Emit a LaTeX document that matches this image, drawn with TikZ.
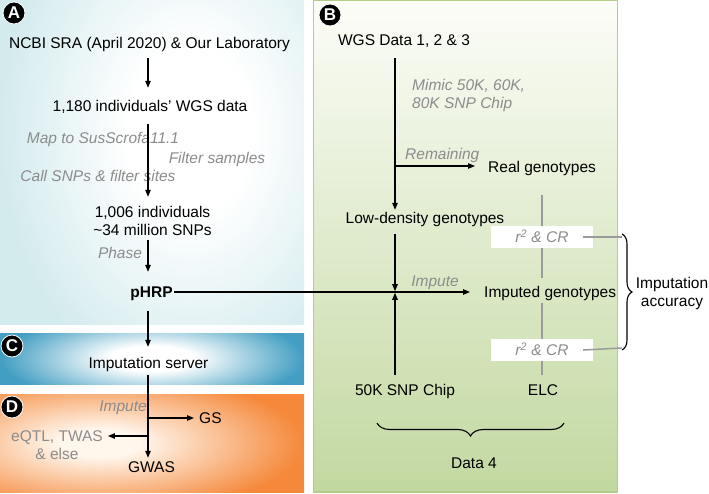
\documentclass[tikz,border=0pt]{standalone}
\usepackage{fontspec}
\setmainfont{Liberation Sans}
\usepackage{tikz}
\usetikzlibrary{arrows.meta,decorations.pathreplacing,calc}
\definecolor{notegray}{RGB}{140,140,140}
\definecolor{linegray}{RGB}{155,155,155}
\definecolor{aout}{RGB}{212,235,238}
\definecolor{cout}{RGB}{66,158,194}
\definecolor{dout}{RGB}{245,136,58}
\definecolor{din}{RGB}{255,246,236}
\definecolor{btop}{RGB}{252,253,248}
\definecolor{bbot}{RGB}{194,216,160}
\definecolor{bline}{RGB}{178,206,136}
\pgfdeclareradialshading{ashade}{\pgfpointorigin}{color(0bp)=(white); color(8bp)=(white); color(25bp)=(aout); color(50bp)=(aout)}
\pgfdeclareradialshading{cshade}{\pgfpointorigin}{color(0bp)=(white); color(7bp)=(white); color(25bp)=(cout); color(50bp)=(cout)}
\pgfdeclareradialshading{dshade}{\pgfpointorigin}{color(0bp)=(din); color(5bp)=(din); color(25bp)=(dout); color(50bp)=(dout)}
\begin{document}
\begin{tikzpicture}[x=1pt,y=-1pt,
  every node/.style={inner sep=0pt},
  lbl/.style={font=\fontsize{15.5}{18}\selectfont, text height=11pt, text depth=0pt},
  lbltwo/.style={font=\fontsize{15.5}{18}\selectfont, align=center, text height=29pt, text depth=0pt},
  note/.style={font=\fontsize{15.5}{18}\selectfont\itshape, text=notegray, text height=11pt, text depth=0pt},
  circ/.style={circle, fill=black, text=white, minimum size=22pt, font=\fontsize{17}{17}\selectfont\bfseries, draw=white, line width=0.8pt},
  arr/.style={line width=1.1pt, -{Triangle[length=7pt,width=5.5pt]}},
  gline/.style={line width=1.5pt, draw=linegray},
  bracestyle/.style={line width=1.1pt, decorate},
  r2box/.style={fill=white, minimum width=102pt, minimum height=22pt, font=\fontsize{15.5}{18}\selectfont\itshape, text=notegray, text height=11pt, text depth=0pt}
]
\useasboundingbox (0,0) rectangle (709,493);
% ---------- panels ----------
\begin{scope}
  \clip (0,0) rectangle (304,324);
  \shade[shading=ashade] (0,-130) rectangle (380,390);
\end{scope}
\begin{scope}
  \clip (0,333) rectangle (304,384);
  \shade[shading=cshade] (0,313) rectangle (304,404);
\end{scope}
\begin{scope}
  \clip (0,394) rectangle (304,492);
  \shade[shading=dshade] (-104,373) rectangle (304,513);
\end{scope}
\shade[top color=btop, bottom color=bbot] (313,0.5) rectangle (617.5,492);
\draw[bline, line width=1.2pt] (313.5,0.6) rectangle (617.5,492);
% ---------- panel letters ----------
\node[circ] (la) at (14,13) {A};
\node[circ] (lb) at (330,15) {B};
\node[circ] (lc) at (12,346) {C};
\node[circ] (ld) at (12,407) {D};
% ---------- axes ----------
\coordinate (axA) at (148,0);
\coordinate (axB) at (395,0);
\coordinate (axG) at (542,0);
% ---------- panel A/C/D nodes ----------
\node[lbl] (ncbi) at (149.5,43) {NCBI SRA (April 2020) \& Our Laboratory};
\node[lbl] (wgs) at (150,106) {1,180 individuals’ WGS data};
\node[lbltwo] (ind) at (152.5,221) {1,006 individuals\\\textasciitilde34 million SNPs};
\node[lbl, font=\fontsize{15.5}{18}\selectfont\bfseries] (phrp) at (151.5,292) {pHRP};
\node[lbl] (imps) at (148.5,363) {Imputation server};
\node[lbl] (gwas) at (151.5,467) {GWAS};
\node[lbl, anchor=west] (gs) at (199,418) {GS};
\node[lbltwo, text=notegray] (eqtl) at (57,445) {eQTL, TWAS\\\& else};
\node[note] (n1) at (103,138) {Map to SusScrofa11.1};
\node[note] (n2) at (217,158) {Filter samples};
\node[note] (n3) at (98,176) {Call SNPs \& filter sites};
\node[note] (n4) at (120,253) {Phase};
\node[note] (n5) at (123,406) {Impute};
\coordinate (bgs) at (148,418);
\coordinate (beq) at (148,436);
% ---------- panel A/C/D connectors ----------
\draw[arr, shorten <=9.5pt, shorten >=12.5pt] (ncbi.south -| axA) -- (wgs.north -| axA);
\draw[arr, shorten <=12.5pt, shorten >=9.5pt] (wgs.south -| axA) -- (ind.north -| axA);
\draw[arr, shorten <=4.5pt, shorten >=14.5pt] (ind.south -| axA) -- (phrp.north -| axA);
\draw[arr, shorten <=13.5pt, shorten >=10.5pt] (phrp.south -| axA) -- (imps.north -| axA);
\draw[arr, shorten <=6.5pt, shorten >=3.5pt] (imps.south -| axA) -- (gwas.north -| axA);
\draw[arr, shorten >=5pt] (bgs) -- (gs.west |- bgs);
\draw[arr, shorten >=5pt] (beq) -- (beq -| eqtl.east);
% ---------- panel B nodes ----------
\node[lbl] (wgs3) at (404,40) {WGS Data 1, 2 \& 3};
\node[note, anchor=base west, align=left, text height=, text depth=] (mimic) at (412,108.5) {Mimic 50K, 60K,\\80K SNP Chip};
\node[note, anchor=west] (rem) at (405,154) {Remaining};
\node[lbl, anchor=west] (real) at (488,167) {Real genotypes};
\node[lbl] (low) at (425,218) {Low-density genotypes};
\node[note] (imp2) at (435,281) {Impute};
\node[lbl, anchor=west] (imputed) at (484,292) {Imputed genotypes};
\node[lbl] (chip) at (405,390) {50K SNP Chip};
\node[lbl] (elc) at (543,390) {ELC};
\node[lbl] (d4) at (474,463) {Data 4};
\node[lbltwo] (acc) at (672,292) {Imputation\\accuracy};
\coordinate (brm) at (395,166);
\coordinate (cross) at (395,292);
\coordinate (bt) at (622,237);
\coordinate (bb) at (622,348);
\coordinate (dl) at (377,423);
\coordinate (dr) at (564,423);
% ---------- panel B connectors ----------
\draw[arr, shorten <=12.5pt, shorten >=2.5pt] (wgs3.south -| axB) -- (low.north -| axB);
\draw[arr, shorten >=13pt] (brm) -- (real.west |- brm);
\draw[arr, shorten <=10pt, shorten >=0.8pt] (low.south -| axB) -- (cross);
\draw[arr, shorten <=9.5pt, shorten >=0.8pt] (chip.north -| axB) -- (cross);
\draw[arr, shorten <=1.5pt, shorten >=14pt] (phrp.east) -- (imputed.west);
\draw[gline, shorten <=22pt, shorten >=8.5pt] (real.south -| axG) -- (imputed.north -| axG);
\draw[gline, shorten <=5pt, shorten >=9.5pt] (imputed.south -| axG) -- (elc.north -| axG);
\node[r2box] (r2a) at (542,237) {r\textsuperscript{2} \& CR};
\node[r2box] (r2b) at (542,350) {r\textsuperscript{2} \& CR};
\draw[gline] ($(r2a.east)+(-10,0)$) -- (bt);
\draw[gline] ($(r2b.east)+(-10,0)$) -- (bb);
\draw[bracestyle, decoration={brace, amplitude=10pt}] ($(bt)+(0,-3)$) -- ($(bb)+(0,2)$);
\draw[bracestyle, decoration={brace, amplitude=13pt}] (dr) -- (dl);
\end{tikzpicture}
\end{document}
